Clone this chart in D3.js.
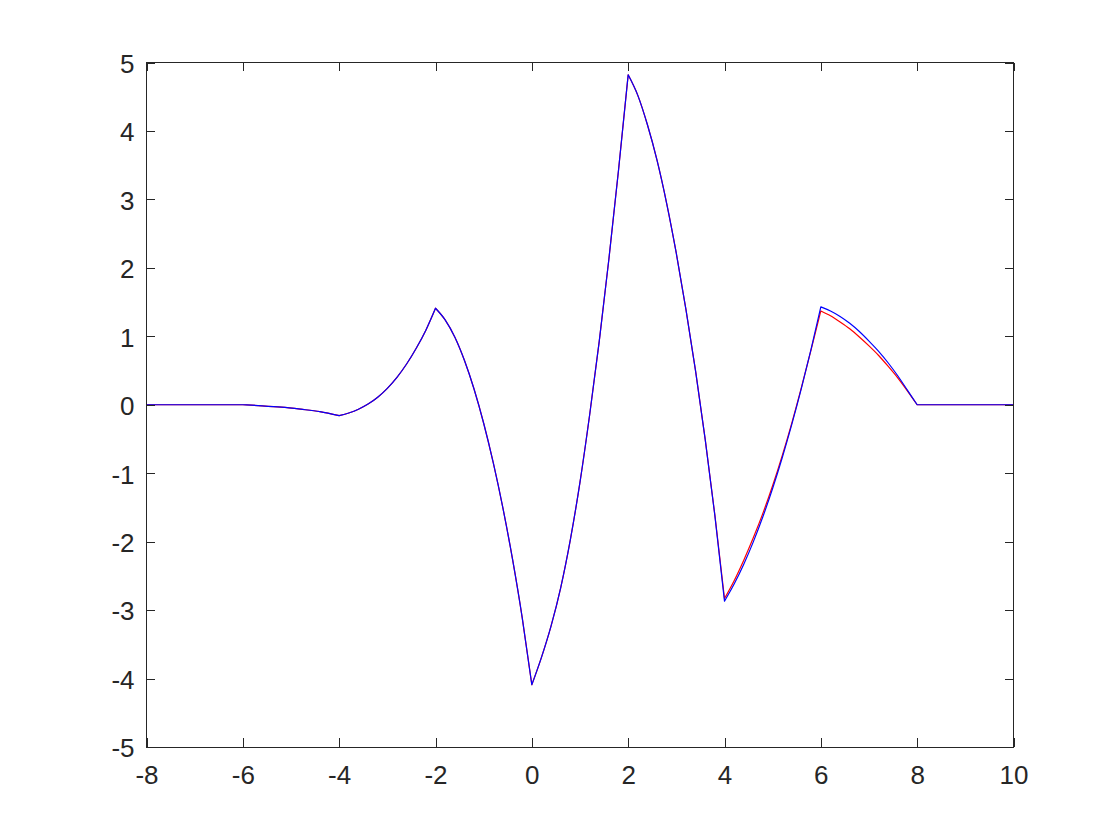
<!DOCTYPE html>
<html>
<head>
<meta charset="utf-8">
<script src="https://cdn.jsdelivr.net/npm/d3@7"></script>
<style>
  html, body { margin: 0; padding: 0; background: #ffffff; }
  svg { display: block; }
  text { font-family: "Liberation Sans", Arial, Helvetica, sans-serif; }
</style>
</head>
<body>
<svg id="chart" width="1120" height="840"></svg>
<script>
// ---- data ----
const xs = [-8, -6,
  -5.6, -5.2, -4.8, -4.4, -4,
  -3.8, -3.6, -3.4, -3.2, -3.0, -2.8, -2.6, -2.4, -2.2, -2,
  -1.8, -1.6, -1.4, -1.2, -1.0, -0.8, -0.6, -0.4, -0.2, 0,
  0.2, 0.4, 0.6, 0.8, 1.0, 1.2, 1.4, 1.6, 1.8, 2.0,
  2.2, 2.4, 2.6, 2.8, 3.0, 3.2, 3.4, 3.6, 3.8, 4.0,
  4.2, 4.4, 4.6, 4.8, 5.0, 5.2, 5.4, 5.6, 5.8, 6.0,
  6.2, 6.4, 6.6, 6.8, 7.0, 7.2, 7.4, 7.6, 7.8, 8.0,
  10];

const blueValues = [0, 0,
  -0.015, -0.035, -0.065, -0.10, -0.16,
  -0.12, -0.065, 0.01, 0.11, 0.24, 0.40, 0.595, 0.825, 1.09, 1.41,
  1.24, 0.99, 0.65, 0.23, -0.27, -0.85, -1.51, -2.26, -3.11, -4.09,
  -3.69, -3.23, -2.67, -1.97, -1.13, -0.15, 0.93, 2.13, 3.43, 4.82,
  4.52, 4.09, 3.57, 2.94, 2.21, 1.39, 0.49, -0.51, -1.62, -2.87,
  -2.62, -2.33, -2.00, -1.63, -1.22, -0.77, -0.28, 0.25, 0.82, 1.43,
  1.37, 1.29, 1.19, 1.07, 0.93, 0.78, 0.61, 0.42, 0.21, 0,
  0];

const redValues = [0, 0,
  -0.015, -0.035, -0.065, -0.10, -0.16,
  -0.12, -0.065, 0.01, 0.11, 0.24, 0.40, 0.595, 0.825, 1.09, 1.41,
  1.24, 0.99, 0.65, 0.23, -0.27, -0.85, -1.51, -2.26, -3.11, -4.09,
  -3.69, -3.23, -2.67, -1.97, -1.13, -0.15, 0.93, 2.13, 3.43, 4.82,
  4.52, 4.09, 3.57, 2.94, 2.21, 1.39, 0.49, -0.51, -1.61, -2.83,
  -2.57, -2.27, -1.94, -1.58, -1.18, -0.74, -0.26, 0.26, 0.81, 1.37,
  1.30, 1.21, 1.11, 0.99, 0.86, 0.72, 0.56, 0.39, 0.20, 0,
  0];

const breakpoints = [-8, -6, -4, -2, 0, 2, 4, 6, 8, 10];
const xTicks = [-8, -6, -4, -2, 0, 2, 4, 6, 8, 10];
const yTicks = [-5, -4, -3, -2, -1, 0, 1, 2, 3, 4, 5];

(function () {
  // ---- layout ----
  const padL = 146.5, padR = 1013.5, padT = 62.5, padB = 747;
  const ink = "#262626";
  const tickLen = 8.7;
  const fontPx = 26;

  const svg = d3.select("#chart");
  const x = d3.scaleLinear().domain([-8, 10]).range([padL, padR]);
  const y = d3.scaleLinear().domain([-5, 5]).range([padB, padT]);

  // ---- curves ----
  function pathFor(vals) {
    const line = d3.line()
      .x(i => x(xs[i]))
      .y(i => y(vals[i]))
      .curve(d3.curveMonotoneX);
    let d = "";
    for (let s = 0; s < breakpoints.length - 1; s++) {
      const a = breakpoints[s], b = breakpoints[s + 1];
      const idx = d3.range(xs.length).filter(i => xs[i] >= a - 1e-9 && xs[i] <= b + 1e-9);
      let part = line(idx);
      if (d !== "") part = "L" + part.slice(1);
      d += part;
    }
    return d;
  }

  const plot = svg.append("g");
  plot.append("path")
    .attr("d", pathFor(redValues))
    .attr("fill", "none")
    .attr("stroke", "#ff0000")
    .attr("stroke-width", 1.2)
    .attr("stroke-linejoin", "round");
  plot.append("path")
    .attr("d", pathFor(blueValues))
    .attr("fill", "none")
    .attr("stroke", "#0000ff")
    .attr("stroke-width", 1.2)
    .attr("stroke-linejoin", "round");

  // ---- axes ----
  const fmt = d => String(d);

  const gB = svg.append("g").attr("transform", `translate(0,${padB})`)
    .call(d3.axisBottom(x).tickValues(xTicks).tickSizeInner(-tickLen).tickSizeOuter(0).tickPadding(19).tickFormat(fmt));
  const gT = svg.append("g").attr("transform", `translate(0,${padT})`)
    .call(d3.axisTop(x).tickValues(xTicks).tickSizeInner(-tickLen).tickSizeOuter(0).tickFormat(""));
  const gL = svg.append("g").attr("transform", `translate(${padL},0)`)
    .call(d3.axisLeft(y).tickValues(yTicks).tickSizeInner(-tickLen).tickSizeOuter(0).tickPadding(12).tickFormat(fmt));
  const gR = svg.append("g").attr("transform", `translate(${padR},0)`)
    .call(d3.axisRight(y).tickValues(yTicks).tickSizeInner(-tickLen).tickSizeOuter(0).tickFormat(""));

  [gB, gT, gL, gR].forEach(g => {
    g.select(".domain").remove();
    g.selectAll(".tick line").attr("stroke", ink).attr("stroke-width", 1).attr("shape-rendering", "crispEdges");
    g.selectAll(".tick text").attr("fill", ink).style("font-size", fontPx + "px")
      .style("font-family", "'Liberation Sans', Arial, Helvetica, sans-serif");
  });
  gL.selectAll(".tick text").attr("dy", "0.38em");

  svg.append("rect")
    .attr("x", padL).attr("y", padT)
    .attr("width", padR - padL).attr("height", padB - padT)
    .attr("fill", "none").attr("stroke", ink).attr("stroke-width", 1)
    .attr("shape-rendering", "crispEdges");
})();
</script>
</body>
</html>
